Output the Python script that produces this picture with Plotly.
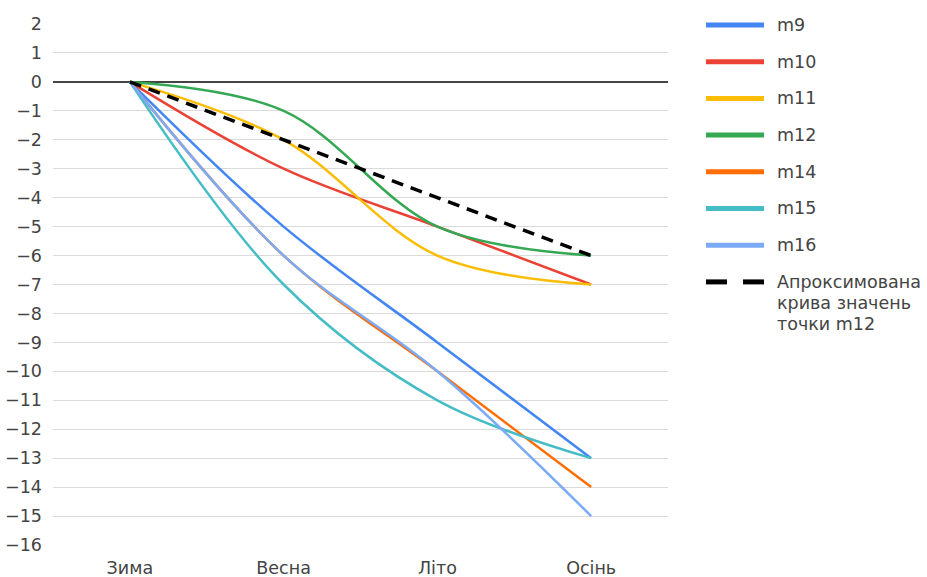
import plotly.graph_objects as go

seasons = ["Зима", "Весна", "Літо", "Осінь"]
series_names = ["m9", "m10", "m11", "m12", "m14", "m15", "m16"]
m9 = [0, -5, -9, -13]
m10 = [0, -3, -5, -7]
m11 = [0, -2, -6, -7]
m12 = [0, -1, -5, -6]
m14 = [0, -6, -10, -14]
m15 = [0, -7, -11, -13]
m16 = [0, -6, -10, -15]
approx_m12 = [0, -2, -4, -6]
approx_lines = ["Апроксимована", "крива значень", "точки m12"]
y_ticks = list(range(-16, 3))

colors = ["#4285F4", "#EA4335", "#FBBC04", "#34A853", "#FF6D01", "#46BDC6", "#7BAAF7"]
series_values = [m9, m10, m11, m12, m14, m15, m16]

W, H = 927, 577
L, R, T, B = 53, 259, 24, 32
FONT = "DejaVu Sans, Liberation Sans, Arial, sans-serif"
FS = 17.5
TXT = "#444444"

fig = go.Figure()
for name, vals, col in zip(series_names, series_values, colors):
    fig.add_trace(go.Scatter(x=seasons, y=vals, mode="lines", name=name,
                             line=dict(color=col, width=2.5, shape="spline", smoothing=1.0),
                             showlegend=False))
fig.add_trace(go.Scatter(x=seasons, y=approx_m12, mode="lines", name=" ".join(approx_lines),
                         line=dict(color="#000000", width=3.5, dash="12px,8px"),
                         showlegend=False))

# custom legend
pw = W - L - R
ph = H - T - B
def px_x(p):
    return (p - L) / pw
def px_y(p):
    return 1 - (p - T) / ph

legend_items = [([n], c) for n, c in zip(series_names, colors)] + [(approx_lines, "#000000")]
y0 = 25
step = 36.7
for i, (lines, col) in enumerate(legend_items):
    yy = y0 + i * step
    if i < len(series_names):
        fig.add_shape(type="line", xref="paper", yref="paper",
                      x0=px_x(706), x1=px_x(764), y0=px_y(yy), y1=px_y(yy),
                      line=dict(color=col, width=5))
    else:
        for a, b in [(706, 727), (743, 764)]:
            fig.add_shape(type="line", xref="paper", yref="paper",
                          x0=px_x(a), x1=px_x(b), y0=px_y(yy), y1=px_y(yy),
                          line=dict(color=col, width=5))
    for j, txt in enumerate(lines):
        fig.add_annotation(xref="paper", yref="paper", x=px_x(776), y=px_y(yy + j * 21),
                           text=txt, showarrow=False, xanchor="left", yanchor="middle",
                           align="left", borderpad=0,
                           font=dict(family=FONT, size=FS, color=TXT))

fig.update_layout(
    template="none",
    width=W, height=H,
    margin=dict(l=L, r=R, t=T, b=B, autoexpand=False),
    plot_bgcolor="white", paper_bgcolor="white",
    font=dict(family=FONT, size=FS, color=TXT),
    showlegend=False,
    xaxis=dict(type="category", range=[-0.5, 3.5], showgrid=False, zeroline=False,
               automargin=False, showline=False, ticks="",
               tickfont=dict(size=FS, color=TXT), ticklabelstandoff=10),
    yaxis=dict(range=[-16, 2], tickvals=y_ticks, showgrid=True, gridcolor="#dadada",
               gridwidth=1, zeroline=True, zerolinecolor="#444", zerolinewidth=1.5,
               automargin=False, showline=False, ticks="",
               tickfont=dict(size=FS, color=TXT), ticklabelstandoff=10),
)

fig.write_html("out.html")
